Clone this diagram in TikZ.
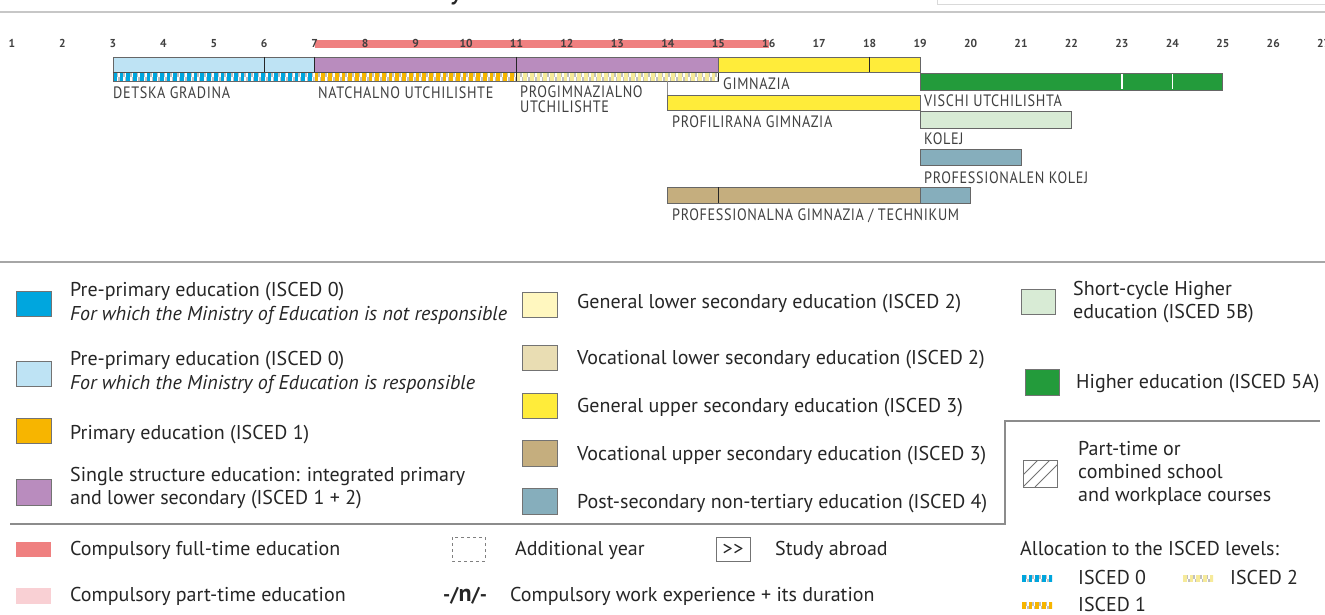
\documentclass[tikz,border=0pt]{standalone}
\usepackage{fontspec}
\setmainfont{PT Sans}
\newfontfamily\lblfont[FakeStretch=0.86,LetterSpace=4]{PT Sans}
\definecolor{lblue}{HTML}{BEE3F4}
\definecolor{iblue}{HTML}{00A6DE}
\definecolor{purp}{HTML}{B98CBE}
\definecolor{orng}{HTML}{F7B500}
\definecolor{lyel}{HTML}{FFF7BF}
\definecolor{pyel}{HTML}{F6EA9A}
\definecolor{yel}{HTML}{FFEC3A}
\definecolor{grn}{HTML}{239B3B}
\definecolor{lgrn}{HTML}{D8EBD5}
\definecolor{bgray}{HTML}{86AEBC}
\definecolor{tan}{HTML}{C5AE7E}
\definecolor{beige}{HTML}{E9DDB3}
\definecolor{cred}{HTML}{EF8080}
\definecolor{cpink}{HTML}{F9D0D4}
\tikzset{
  bar/.style={draw=black!60, line width=0.8pt},
  divider/.style={draw=black!85, line width=1.3pt},
  wdiv/.style={draw=white, line width=1.6pt},
  lbl/.style={font=\lblfont\fontsize{16.5}{16.5}\selectfont, text=black!75, anchor=base west, inner sep=0pt},
  yrnum/.style={font=\bfseries\fontsize{11.5}{11.5}\selectfont, text=black!75, anchor=base, inner sep=0pt},
  leg/.style={font=\fontsize{20}{24}\selectfont, text=black!85, anchor=base west, inner sep=0pt},
  sw/.style={draw=black!55, line width=0.8pt},
}
\newcommand{\patstrip}[5]{%
  \begin{scope}
    \clip (#1,#3) rectangle (#2,#4);
    \fill[white] (#1,#3) rectangle (#2,#4);
    \pgfmathtruncatemacro{\pscount}{ceil((#2-#1)/6.73)}
    \foreach \ii in {0,...,\pscount}{
      \pgfmathsetmacro{\psx}{#1+\ii*6.73}
      \fill[#5] (\psx,#3) rectangle ({\psx+3.7},#4);
      \fill[black!25] ({\psx+3.7},#3) rectangle ({\psx+5.2},{(#3+#4)/2});
      \fill[black!25] ({\psx+5.2},{(#3+#4)/2}) rectangle ({\psx+6.73},#4);
    }
  \end{scope}}
\begin{document}
\begin{tikzpicture}[x=1pt,y=-1pt]
\useasboundingbox (0,0) rectangle (1325,615);
\clip (0,0) rectangle (1325,615);
\fill[white] (0,0) rectangle (1325,615);
% header remnants
\node[font=\fontsize{32}{32}\selectfont, anchor=base west, inner sep=0pt, text=black!85] (ttl) at (449,-1) {y};
\draw[black!15, line width=1pt] (937,-2) -- (937,5) -- (1326,5);
\draw[black!22, line width=1.5pt] (0,12) -- (1325,12);
% compulsory bar
\fill[cred] (314.7,40) rectangle (768.75,48.5);
% year numbers
\foreach \n [count=\k from 0] in {1,...,27}{
  \node[yrnum] (y\n) at ({12+\k*50.45},48) {\n};
}
% pre-primary / primary / progimnazialno
\fill[lblue] (112.9,57) rectangle (314.7,72.5);
\fill[purp] (314.7,57) rectangle (718.3,72.5);
\patstrip{112.9}{314.7}{73}{81.5}{iblue}
\patstrip{314.7}{516.5}{73}{81.5}{orng}
\patstrip{516.5}{718.3}{73}{81.5}{pyel}
\draw[bar] (112.9,57) rectangle (718.3,81.5);
\draw[black!70, line width=1pt] (112.9,72.7) -- (718.3,72.7);
\draw[divider] (264.25,57) -- (264.25,72.5);
\draw[divider] (314.7,57) -- (314.7,72.5);
\draw[divider] (516.5,57) -- (516.5,81.5);
\draw[divider] (718.3,57) -- (718.3,81.5);
% gimnazia
\fill[yel] (718.3,57) rectangle (920.1,72.5);
\draw[bar] (718.3,57) rectangle (920.1,72.5);
\draw[divider] (869.65,57) -- (869.65,72.5);
\draw[black!45, line width=0.8pt] (667.85,81.5) -- (667.85,95);
% profilirana
\fill[yel] (667.85,95) rectangle (920.1,110.5);
\draw[bar] (667.85,95) rectangle (920.1,110.5);
% higher education
\fill[grn] (920.1,73) rectangle (1222.8,90.5);
\draw[bar] (920.1,73) rectangle (1222.8,90.5);
\draw[wdiv] (1121.9,74) -- (1121.9,89.5);
\draw[wdiv] (1172.35,74) -- (1172.35,89.5);
% kolej
\fill[lgrn] (920.1,111.5) rectangle (1071.45,128);
\draw[bar] (920.1,111.5) rectangle (1071.45,128);
% professionalen kolej
\fill[bgray] (920.1,149) rectangle (1021,165.5);
\draw[bar] (920.1,149) rectangle (1021,165.5);
% technikum
\fill[tan] (667.85,187) rectangle (920.1,203);
\fill[bgray] (920.1,187) rectangle (970.55,203);
\draw[bar] (667.85,187) rectangle (970.55,203);
\draw[black!60, line width=0.8pt] (920.1,187) -- (920.1,203);
\draw[divider] (718.3,187) -- (718.3,203);
% bar labels
\node[lbl] (ldet) at (113,99) {DETSKA GRADINA};
\node[lbl] (lnat) at (318,99) {NATCHALNO UTCHILISHTE};
\node[lbl] (lpro1) at (520,98) {PROGIMNAZIALNO};
\node[lbl] (lpro2) at (520,113) {UTCHILISHTE};
\node[lbl] (lgim) at (723,90) {GIMNAZIA};
\node[lbl] (lvis) at (924,107) {VISCHI UTCHILISHTA};
\node[lbl] (lprof) at (672,128) {PROFILIRANA GIMNAZIA};
\node[lbl] (lkol) at (924,145) {KOLEJ};
\node[lbl] (lpkol) at (924,183) {PROFESSIONALEN KOLEJ};
\node[lbl] (ltech) at (672,220) {PROFESSIONALNA GIMNAZIA / TECHNIKUM};
% separators
\draw[black!35, line width=2pt] (0,262) -- (1325,262);
\draw[black!45, line width=1.3pt] (10,524) -- (1005,524) -- (1005,421) -- (1320,421);
% legend column 1
\fill[iblue] (16,291) rectangle (51,316); \draw[sw] (16,291) rectangle (51,316);
\node[leg] (t1a) at (70,296) {Pre-primary education (ISCED 0)};
\node[leg] (t1b) at (70,320) {\itshape For which the Ministry of Education is not responsible};
\fill[lblue] (16,361) rectangle (51,386); \draw[sw] (16,361) rectangle (51,386);
\node[leg] (t2a) at (70,365) {Pre-primary education (ISCED 0)};
\node[leg] (t2b) at (70,389) {\itshape For which the Ministry of Education is responsible};
\fill[orng] (16,418) rectangle (51,443); \draw[sw] (16,418) rectangle (51,443);
\node[leg] (t3) at (70,439) {Primary education (ISCED 1)};
\fill[purp] (16,479) rectangle (51,505); \draw[sw] (16,479) rectangle (51,505);
\node[leg] (t4a) at (70,481) {Single structure education: integrated primary};
\node[leg] (t4b) at (70,504) {and lower secondary (ISCED 1 + 2)};
% legend column 2
\fill[lyel] (522,292) rectangle (557,317); \draw[sw] (522,292) rectangle (557,317);
\node[leg] (t5) at (577,308) {General lower secondary education (ISCED 2)};
\fill[beige] (522,345) rectangle (557,370); \draw[sw] (522,345) rectangle (557,370);
\node[leg] (t6) at (577,364) {Vocational lower secondary education (ISCED 2)};
\fill[yel] (522,393) rectangle (557,418); \draw[sw] (522,393) rectangle (557,418);
\node[leg] (t7) at (577,412) {General upper secondary education (ISCED 3)};
\fill[tan] (522,440) rectangle (557,466); \draw[sw] (522,440) rectangle (557,466);
\node[leg] (t8) at (577,460) {Vocational upper secondary education (ISCED 3)};
\fill[bgray] (522,488) rectangle (557,514); \draw[sw] (522,488) rectangle (557,514);
\node[leg] (t9) at (577,508) {Post-secondary non-tertiary education (ISCED 4)};
% legend column 3
\fill[lgrn] (1021,289) rectangle (1055,314); \draw[sw] (1021,289) rectangle (1055,314);
\node[leg] (t10a) at (1073,295) {Short-cycle Higher};
\node[leg] (t10b) at (1073,318) {education (ISCED 5B)};
\fill[grn] (1025,369) rectangle (1059,395); \draw[sw] (1025,369) rectangle (1059,395);
\node[leg] (t11) at (1076,388) {Higher education (ISCED 5A)};
\begin{scope}
  \clip (1023,460) rectangle (1057,487);
  \foreach \d in {-12,0,12}{
    \draw[black!55, line width=0.8pt] ({1023+\d},487) -- ({1023+\d+27},460);
  }
\end{scope}
\draw[sw] (1023,460) rectangle (1057,487);
\node[leg] (t12a) at (1078,455) {Part-time or};
\node[leg] (t12b) at (1078,478) {combined school};
\node[leg] (t12c) at (1078,501) {and workplace courses};
% bottom rows
\fill[cred] (16,542) rectangle (51,557);
\node[leg] (t13) at (70,555.5) {Compulsory full-time education};
\fill[cpink] (16,588) rectangle (51,604);
\node[leg] (t14) at (70,601.5) {Compulsory part-time education};
\draw[black!50, dashed, line width=0.8pt] (452,537) rectangle (485,561);
\node[leg] (t15) at (515,555.5) {Additional year};
\node[leg] (t16s) at (443,601.5) {\bfseries -/{\fontsize{24}{24}\selectfont n}/-};
\node[leg] (t16) at (510,601.5) {Compulsory work experience + its duration};
\draw[black!55, line width=0.8pt] (716,537) rectangle (750,561);
\node[leg, anchor=base] (t17s) at (733,555.5) {>\kern0.5pt>};
\node[leg] (t17) at (775,555.5) {Study abroad};
\node[leg] (t18) at (1020,555.5) {Allocation to the ISCED levels:};
\patstrip{1022}{1052}{575}{582}{iblue}
\node[leg] (t19) at (1078,584.5) {ISCED 0};
\patstrip{1183}{1213}{575}{582}{pyel}
\node[leg] (t20) at (1230,584.5) {ISCED 2};
\patstrip{1022}{1052}{602}{609}{orng}
\node[leg] (t21) at (1078,611.5) {ISCED 1};
\end{tikzpicture}
\end{document}
